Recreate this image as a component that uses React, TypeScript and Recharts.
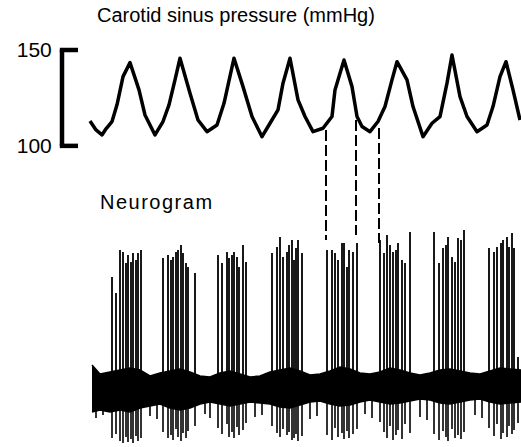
import React from 'react';
import { ComposedChart, Line, Area, XAxis, YAxis, ReferenceLine } from 'recharts';

// time in ms, pressure in mmHg, neurogram in µV (nominal)
const pressureT = [280, 340, 400, 440, 500, 550, 610, 680, 770, 830, 930, 1010, 1070, 1130, 1180, 1280, 1360, 1450, 1550, 1620, 1720, 1810, 1900, 2000, 2080, 2160, 2210, 2280, 2360, 2430, 2510, 2610, 2700, 2730, 2820, 2900, 2950, 3000, 3080, 3160, 3230, 3300, 3350, 3450, 3510, 3610, 3700, 3780, 3850, 3900, 3980, 4050, 4150, 4250, 4310, 4380, 4440, 4510, 4580];
const pressureP = [113, 108.3, 105.7, 108.9, 112.7, 121.4, 136.1, 143.4, 129.2, 116.1, 105.7, 112.7, 121.4, 134.4, 145.7, 127.4, 113.5, 107.4, 110.9, 122.2, 145.7, 130.9, 115.3, 104.8, 111.8, 118.8, 132.7, 145.7, 124.0, 115.3, 107.4, 109.2, 115.3, 129.2, 144.8, 130.9, 115.3, 110.1, 107.4, 112.7, 120.5, 134.4, 143.9, 134.4, 120.5, 104.8, 111.8, 115.3, 132.7, 147.4, 125.7, 115.3, 107.4, 110.9, 120.5, 136.1, 143.9, 129.2, 113.5];

// calibration bar
const scaleTicks = [100, 150];

// dashed markers linking pressure to neurogram
const markerT = [2640, 2940, 3170];
const markerFrom = [108.3, 113.5, 109.3];
const markerTo = [50.9, 53.5, 49.3];

// neurogram background activity envelope
const bandT = [300, 380, 480, 580, 680, 780, 880, 980, 1080, 1180, 1280, 1380, 1480, 1580, 1680, 1780, 1880, 1980, 2080, 2180, 2280, 2380, 2480, 2580, 2680, 2780, 2880, 2980, 3080, 3180, 3280, 3380, 3480, 3580, 3680, 3780, 3880, 3980, 4080, 4180, 4280, 4380, 4480, 4590];
const bandHi = [23, 14, 16, 18, 20, 18, 12, 15, 17, 19, 16, 12, 11, 15, 17, 14, 11, 12, 16, 18, 20, 17, 13, 14, 17, 21, 19, 15, 14, 16, 20, 18, 15, 13, 15, 18, 19, 17, 15, 14, 17, 20, 19, 18];
const bandLo = [-24, -22, -24, -22, -24, -20, -18, -16, -20, -22, -20, -16, -14, -16, -18, -16, -14, -15, -16, -19, -20, -17, -14, -13, -16, -18, -17, -14, -12, -14, -16, -15, -13, -11, -12, -15, -16, -14, -12, -11, -14, -16, -15, -14];

// action potentials in bursts
const spikeT = [
  500, 540, 580, 610, 640, 660, 690, 710, 740, 760, 790,
  1010, 1060, 1090, 1110, 1140, 1160, 1190, 1210, 1240, 1260, 1330,
  1560, 1600, 1650, 1670, 1700, 1720, 1750, 1770, 1810, 1840,
  2100, 2150, 2180, 2210, 2250, 2270, 2300, 2320, 2340, 2360, 2400,
  2650, 2700, 2730, 2760, 2800, 2820, 2850, 2870, 2910, 2950,
  3180, 3220, 3250, 3280, 3310, 3340, 3360, 3400, 3430, 3480,
  3720, 3770, 3810, 3840, 3860, 3900, 3930, 3960, 3990, 4020,
  4270, 4320, 4350, 4390, 4410, 4450, 4470, 4500, 4520, 4560,
];
const spikeUp = [
  111, 95, 138, 136, 125, 133, 126, 135, 128, 135, 138,
  130, 133, 128, 131, 136, 138, 143, 135, 125, 121, 115,
  133, 125, 136, 130, 133, 136, 131, 121, 143, 126,
  135, 141, 151, 131, 136, 143, 148, 128, 140, 148, 135,
  138, 138, 135, 128, 145, 145, 121, 138, 136, 145,
  148, 135, 153, 143, 136, 138, 145, 128, 125, 156,
  156, 125, 140, 143, 151, 131, 126, 150, 148, 158,
  140, 136, 141, 145, 148, 151, 141, 155, 140, 31,
];
const spikeDown = [
  -50, -46, -53, -55, -49, -54, -51, -55, -48, -53, -50,
  -44, -50, -47, -52, -41, -49, -53, -45, -50, -43, -38,
  -40, -46, -36, -49, -44, -50, -39, -47, -42, -35,
  -38, -45, -49, -41, -47, -44, -52, -50, -46, -53, -48,
  -47, -52, -40, -49, -45, -51, -43, -50, -46, -41,
  -34, -44, -50, -38, -52, -47, -42, -51, -36, -45,
  -46, -52, -43, -49, -53, -41, -50, -47, -51, -44,
  -40, -48, -36, -51, -45, -49, -38, -46, -42, -35,
];

// smaller deflections between bursts
const noiseT = [340, 410, 880, 950, 1430, 1480, 1930, 2000, 2480, 2550, 3030, 3100, 3580, 3650, 4130, 4200];
const noiseDown = [-30, -27, -28, -31, -26, -30, -29, -27, -31, -28, -26, -30, -29, -32, -27, -30];

const bandData = bandT.map((t, i) => ({ t, band: [bandLo[i], bandHi[i]] }));
const pressureData = pressureT.map((t, i) => ({ t, p: pressureP[i] }));
const spikeUpData = spikeT.flatMap((t, i) => [{ t, v: 0 }, { t, v: spikeUp[i] }, { t, v: null }]);
const spikeDownData = [...spikeT.map((t, i) => ({ t, d: spikeDown[i] })), ...noiseT.map((t, i) => ({ t, d: noiseDown[i] }))]
  .flatMap(({ t, d }) => [{ t, v: 0 }, { t, v: d }, { t, v: null }]);

const FONT = '"Liberation Sans", Arial, Helvetica, sans-serif';

export default function App() {
  return (
    <div style={{ position: 'absolute', left: 0, top: 0, width: 521, height: 447, background: '#fff', overflow: 'hidden' }}>
      <div style={{ position: 'absolute', left: 97, top: 5, fontFamily: FONT, fontSize: 20, lineHeight: '20px', color: '#000', whiteSpace: 'nowrap' }}>
        Carotid sinus pressure (mmHg)
      </div>
      <div style={{ position: 'absolute', left: 100, top: 192, fontFamily: FONT, fontSize: 20, lineHeight: '20px', letterSpacing: 1.5, color: '#000', whiteSpace: 'nowrap' }}>
        Neurogram
      </div>
      <ComposedChart width={521} height={447} data={bandData} margin={{ top: 50, right: 0, bottom: 2, left: 62 }}>
        <XAxis dataKey="t" type="number" domain={[0, 4590]} hide />
        <YAxis yAxisId="p" type="number" domain={[-56, 150]} hide />
        <YAxis yAxisId="n" type="number" domain={[-57, 338]} hide />
        <ReferenceLine yAxisId="p" segment={[{ x: 0, y: 100 }, { x: 0, y: 150 }]} stroke="#000" strokeWidth={4.5} ifOverflow="visible" />
        {scaleTicks.map((v) => (
          <ReferenceLine
            key={v}
            yAxisId="p"
            segment={[{ x: -22, y: v }, { x: 160, y: v }]}
            stroke="#000"
            strokeWidth={4.5}
            ifOverflow="visible"
            label={{ value: String(v), position: 'left', offset: 8, fontSize: 21, fill: '#000', fontFamily: FONT }}
          />
        ))}
        <Area yAxisId="n" dataKey="band" type="linear" stroke="#000" strokeWidth={1.5} fill="#000" fillOpacity={1} isAnimationActive={false} />
        <Line yAxisId="n" data={spikeDownData} dataKey="v" stroke="#000" strokeWidth={1.6} dot={false} activeDot={false} connectNulls={false} isAnimationActive={false} />
        <Line yAxisId="n" data={spikeUpData} dataKey="v" stroke="#000" strokeWidth={1.8} dot={false} activeDot={false} connectNulls={false} isAnimationActive={false} />
        <Line yAxisId="p" data={pressureData} dataKey="p" type="linear" stroke="#000" strokeWidth={3.5} strokeLinejoin="round" dot={false} activeDot={false} isAnimationActive={false} />
        {markerT.map((t, i) => (
          <ReferenceLine
            key={t}
            yAxisId="p"
            segment={[{ x: t, y: markerFrom[i] }, { x: t, y: markerTo[i] }]}
            stroke="#000"
            strokeWidth={2}
            strokeDasharray="11 4"
            ifOverflow="visible"
          />
        ))}
      </ComposedChart>
    </div>
  );
}
